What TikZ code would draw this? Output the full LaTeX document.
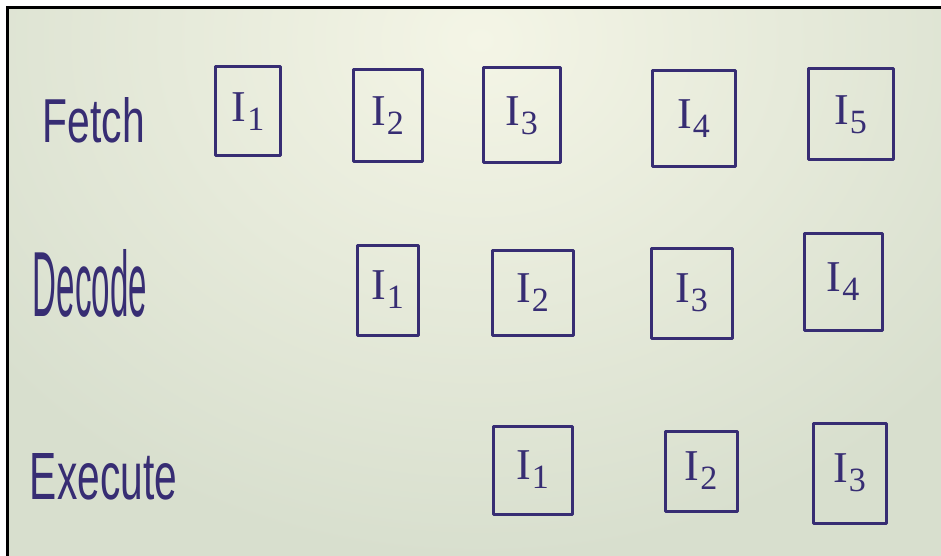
\documentclass[tikz,border=0pt]{standalone}
\usepackage{fontspec}
\usepackage{graphicx}
\setmainfont{Liberation Serif}
\setsansfont{Liberation Sans}
\definecolor{ink}{RGB}{55,45,115}
\definecolor{paper}{RGB}{216,223,206}
\definecolor{paperlight}{RGB}{244,245,230}
\newcommand\instr[1]{I\kern1pt\raisebox{-9pt}{\fontsize{34}{34}\selectfont #1}}
\tikzset{
  stagebox/.style={draw=ink, line width=3pt, inner sep=0pt, text=ink,
    font=\fontsize{44}{44}\selectfont, line join=round},
  rowlabel/.style={inner sep=0pt, text=ink, font=\sffamily}
}
\begin{document}
\begin{tikzpicture}[x=1pt,y=-1pt]
\useasboundingbox (0,0) rectangle (941,556);
\fill[white] (0,0) rectangle (941,556);
\begin{scope}
  \clip (7,7) rectangle (941,556);
  \fill[paper] (7,7) rectangle (941,556);
  \shade[inner color=paperlight, outer color=paper] (480,40) ellipse (620 and 520);
\end{scope}
\draw[black, line width=3pt] (7.5,556) -- (7.5,7.5) -- (941,7.5);

% row labels
\node[rowlabel] (fetch) at (94,120.5) {\resizebox{102pt}{45pt}{Fetch}};
\node[rowlabel] (decode) at (90,283.5) {\resizebox{114pt}{67pt}{Decode}};
\node[rowlabel] (execute) at (103.5,477) {\resizebox{147pt}{46pt}{Execute}};

% fetch row
\node[stagebox, minimum width=65pt, minimum height=89pt] (f1) at (248,111.5) {\instr{1}};
\node[stagebox, minimum width=69pt, minimum height=92pt] (f2) at (387.5,116) {\instr{2}};
\node[stagebox, minimum width=77pt, minimum height=95pt] (f3) at (521.5,115.5) {\instr{3}};
\node[stagebox, minimum width=83pt, minimum height=96pt] (f4) at (693.5,119) {\instr{4}};
\node[stagebox, minimum width=85pt, minimum height=91pt] (f5) at (850.5,114.5) {\instr{5}};

% decode row
\node[stagebox, minimum width=61pt, minimum height=90pt] (d1) at (387.5,290) {\instr{1}};
\node[stagebox, minimum width=81pt, minimum height=85pt] (d2) at (532.5,292.5) {\instr{2}};
\node[stagebox, minimum width=81pt, minimum height=90pt] (d3) at (691.5,293) {\instr{3}};
\node[stagebox, minimum width=78pt, minimum height=97pt] (d4) at (843,281.5) {\instr{4}};

% execute row
\node[stagebox, minimum width=79pt, minimum height=88pt] (e1) at (532.5,470) {\instr{1}};
\node[stagebox, minimum width=72pt, minimum height=80pt] (e2) at (701,471) {\instr{2}};
\node[stagebox, minimum width=73pt, minimum height=100pt] (e3) at (849.5,473) {\instr{3}};
\end{tikzpicture}
\end{document}
